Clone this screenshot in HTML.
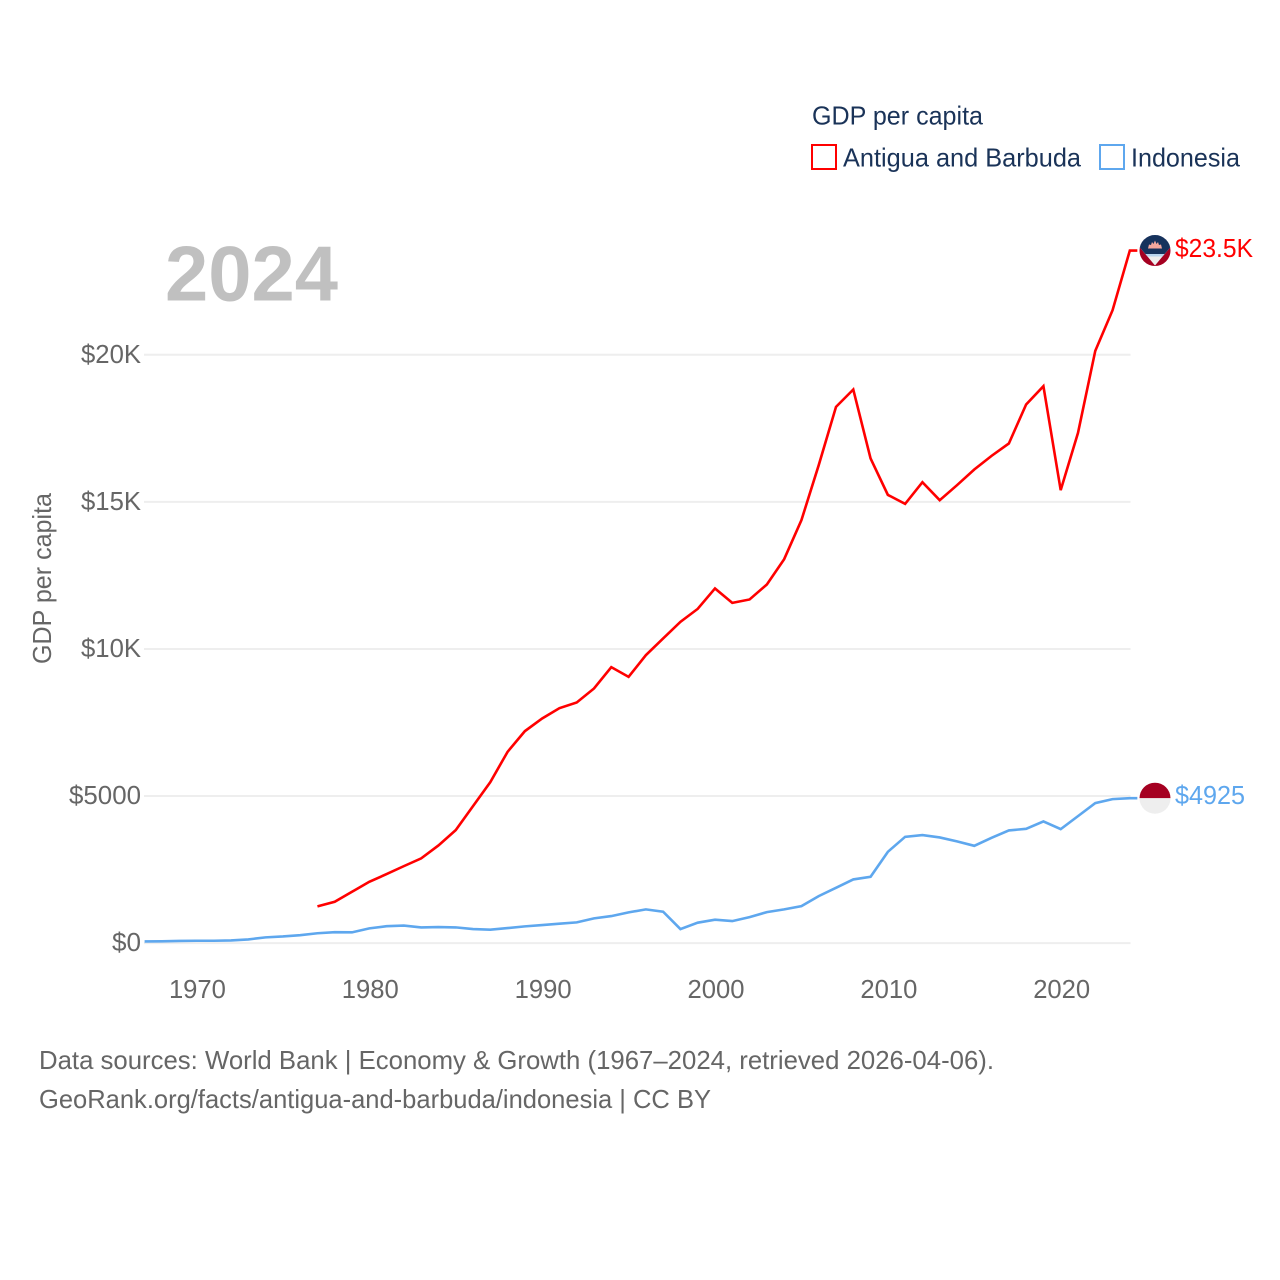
<!DOCTYPE html>
<html lang="en">
<head>
<meta charset="utf-8">
<title>GDP per capita: Antigua and Barbuda vs Indonesia</title>
<style>
html,body{margin:0;padding:0;background:#fff;width:1280px;height:1280px;overflow:hidden}
svg{display:block}
text{font-family:"Liberation Sans",sans-serif;font-size:26px}
.tick{fill:#666}
.legend{fill:#1a3358}
.foot{fill:#666}
</style>
</head>
<body>
<svg id="chart" xmlns="http://www.w3.org/2000/svg" width="1280" height="1280" viewBox="0 0 1280 1280">
  <rect width="1280" height="1280" fill="#fff"/>
  <g id="grid"></g>
  <g id="yticks"></g>
  <g id="xticks"></g>
  <text class="tick" transform="translate(51 664) rotate(-90)" textLength="171" lengthAdjust="spacingAndGlyphs">GDP per capita</text>
  <text x="165" y="300.5" fill="#c0c0c0" font-weight="700" style="font-size:78px;font-weight:700" textLength="173" lengthAdjust="spacingAndGlyphs">2024</text>
  <g id="series"></g>
  <g id="endmarks"></g>
  <g>
    <text class="legend" x="812" y="124.5" textLength="171" lengthAdjust="spacingAndGlyphs">GDP per capita</text>
    <g>
      <rect x="812" y="145" width="24" height="24" fill="none" stroke="#ff0000" stroke-width="2"/>
      <text class="legend" x="843" y="166.5" textLength="238" lengthAdjust="spacingAndGlyphs">Antigua and Barbuda</text>
    </g>
    <g>
      <rect x="1100" y="145" width="24" height="24" fill="none" stroke="#5ea7ee" stroke-width="2"/>
      <text class="legend" x="1131" y="166.5" textLength="109" lengthAdjust="spacingAndGlyphs">Indonesia</text>
    </g>
  </g>
  <text class="foot" x="39" y="1069" textLength="955" lengthAdjust="spacingAndGlyphs">Data sources: World Bank | Economy &amp; Growth (1967–2024, retrieved 2026-04-06).</text>
  <a><text class="foot" x="39" y="1108" textLength="672" lengthAdjust="spacingAndGlyphs">GeoRank.org/facts/antigua-and-barbuda/indonesia | CC BY</text></a>
</svg>
<script>
const yearsIndonesia = [1967,1968,1969,1970,1971,1972,1973,1974,1975,1976,1977,1978,1979,1980,1981,1982,1983,1984,1985,1986,1987,1988,1989,1990,1991,1992,1993,1994,1995,1996,1997,1998,1999,2000,2001,2002,2003,2004,2005,2006,2007,2008,2009,2010,2011,2012,2013,2014,2015,2016,2017,2018,2019,2020,2021,2022,2023,2024];
const valuesIndonesia = [56,62,72,80,80,90,125,195,225,270,335,370,365,500,575,595,534,544,534,476,455,510,568,612,660,704,840,918,1044,1146,1067,476,694,795,748,884,1054,1146,1258,1598,1880,2165,2254,3103,3613,3671,3592,3457,3307,3579,3831,3885,4137,3875,4317,4759,4895,4925];
const yearsAntigua = [1977,1978,1979,1980,1981,1982,1983,1984,1985,1986,1987,1988,1989,1990,1991,1992,1993,1994,1995,1996,1997,1998,1999,2000,2001,2002,2003,2004,2005,2006,2007,2008,2009,2010,2011,2012,2013,2014,2015,2016,2017,2018,2019,2020,2021,2022,2023,2024];
const valuesAntigua = [1247,1404,1744,2084,2345,2617,2879,3320,3841,4657,5472,6503,7206,7637,7988,8181,8657,9381,9052,9789,10357,10921,11363,12056,11567,11682,12192,13052,14378,16247,18229,18820,16475,15238,14932,15670,15058,15568,16101,16564,16985,18311,18933,15398,17345,20133,21516,23545];
const yTickValues = [0,5000,10000,15000,20000];
const yTickLabels = ["$0","$5000","$10K","$15K","$20K"];
const yTickWidths = [29,72,60,60,60];
const xTickValues = [1970,1980,1990,2000,2010,2020];
const xTickLabels = ["1970","1980","1990","2000","2010","2020"];
const labelAntigua = "$23.5K";
const labelIndonesia = "$4925";

const NS = "http://www.w3.org/2000/svg";
function xScale(year){ return 715 + (year - 2000) * 17.285; }
function yScale(value){ return 943.1 - value * 0.029415; }
function mk(tag, attrs, parent){
  const el = document.createElementNS(NS, tag);
  for (const k in attrs) el.setAttribute(k, attrs[k]);
  parent.appendChild(el);
  return el;
}
const grid = document.getElementById("grid");
const yticks = document.getElementById("yticks");
const xticks = document.getElementById("xticks");
const series = document.getElementById("series");
const endmarks = document.getElementById("endmarks");

yTickValues.forEach(function(v, i){
  const line = mk("line", {x1:144, x2:1130.5, y1:yScale(v), y2:yScale(v), stroke:"#eeeeee", "stroke-width":2}, grid);
  
  
  const t = mk("text", {class:"tick", x:141 - yTickWidths[i], y:yScale(v) + 8, textLength:yTickWidths[i], lengthAdjust:"spacingAndGlyphs"}, yticks);
  t.textContent = yTickLabels[i];
  
  
});
xTickValues.forEach(function(v, i){
  const t = mk("text", {class:"tick", x:xScale(v) + 1 - 28.5, y:998, textLength:57, lengthAdjust:"spacingAndGlyphs"}, xticks);
  t.textContent = xTickLabels[i];
  
  
});
function linePoints(years, values){
  const pts = years.map(function(y, i){ return xScale(y).toFixed(2) + "," + yScale(values[i]).toFixed(2); });
  const last = values[values.length - 1];
  pts.push((xScale(years[years.length - 1]) + 7.5).toFixed(2) + "," + yScale(last).toFixed(2));
  return pts.join(" ");
}
const lineIndonesia = mk("polyline", {points:linePoints(yearsIndonesia, valuesIndonesia), fill:"none", stroke:"#5ea7ee", "stroke-width":2.6, "stroke-linejoin":"miter"}, series);


const lineAntigua = mk("polyline", {points:linePoints(yearsAntigua, valuesAntigua), fill:"none", stroke:"#ff0000", "stroke-width":2.6, "stroke-linejoin":"miter"}, series);



const cx = 1155;
const ay = yScale(valuesAntigua[valuesAntigua.length - 1]);
const iy = yScale(valuesIndonesia[valuesIndonesia.length - 1]);

const defs = mk("defs", {}, endmarks);
const cpA = mk("clipPath", {id:"clip-a"}, defs);
mk("circle", {cx:cx, cy:ay, r:15.5}, cpA);
const cpI = mk("clipPath", {id:"clip-i"}, defs);
mk("circle", {cx:cx, cy:iy, r:15.5}, cpI);

const flagA = mk("g", {"clip-path":"url(#clip-a)"}, endmarks);


mk("rect", {x:cx-16, y:ay-16, width:32, height:32, fill:"#a50021"}, flagA);
mk("polygon", {points:(cx-30)+","+(ay-21)+" "+(cx+30)+","+(ay-21)+" "+cx+","+(ay+15), fill:"#eeeeee"}, flagA);
mk("polygon", {points:(cx-30)+","+(ay-21)+" "+(cx+30)+","+(ay-21)+" "+(cx+7.5)+","+(ay+6)+" "+(cx-7.5)+","+(ay+6), fill:"#b8d4ee"}, flagA);
mk("polygon", {points:(cx-30)+","+(ay-21)+" "+(cx+30)+","+(ay-21)+" "+(cx+9.6)+","+(ay+3.5)+" "+(cx-9.6)+","+(ay+3.5), fill:"#16325c"}, flagA);
mk("path", {d:"M"+(cx-7)+" "+(ay-2)+" L"+(cx-6)+" "+(ay-6)+" L"+(cx-4)+" "+(ay-5.5)+" L"+(cx-3)+" "+(ay-8.5)+" L"+(cx-1.5)+" "+(ay-6.5)+" L"+cx+" "+(ay-10)+" L"+(cx+1.5)+" "+(ay-6.5)+" L"+(cx+3)+" "+(ay-8.5)+" L"+(cx+4)+" "+(ay-5.5)+" L"+(cx+6)+" "+(ay-6)+" L"+(cx+7)+" "+(ay-2)+" Z", fill:"#f4a79d"}, flagA);

const flagI = mk("g", {"clip-path":"url(#clip-i)"}, endmarks);


mk("rect", {x:cx-16, y:iy-16, width:32, height:16, fill:"#a50021"}, flagI);
mk("rect", {x:cx-16, y:iy, width:32, height:16, fill:"#eeeeee"}, flagI);

const endA = mk("text", {x:1175, y:ay + 6.5, fill:"#ff0000", textLength:78, lengthAdjust:"spacingAndGlyphs"}, endmarks);
endA.textContent = labelAntigua;


const endI = mk("text", {x:1175, y:iy + 6, fill:"#5ea7ee", textLength:70, lengthAdjust:"spacingAndGlyphs"}, endmarks);
endI.textContent = labelIndonesia;


</script>
</body>
</html>
